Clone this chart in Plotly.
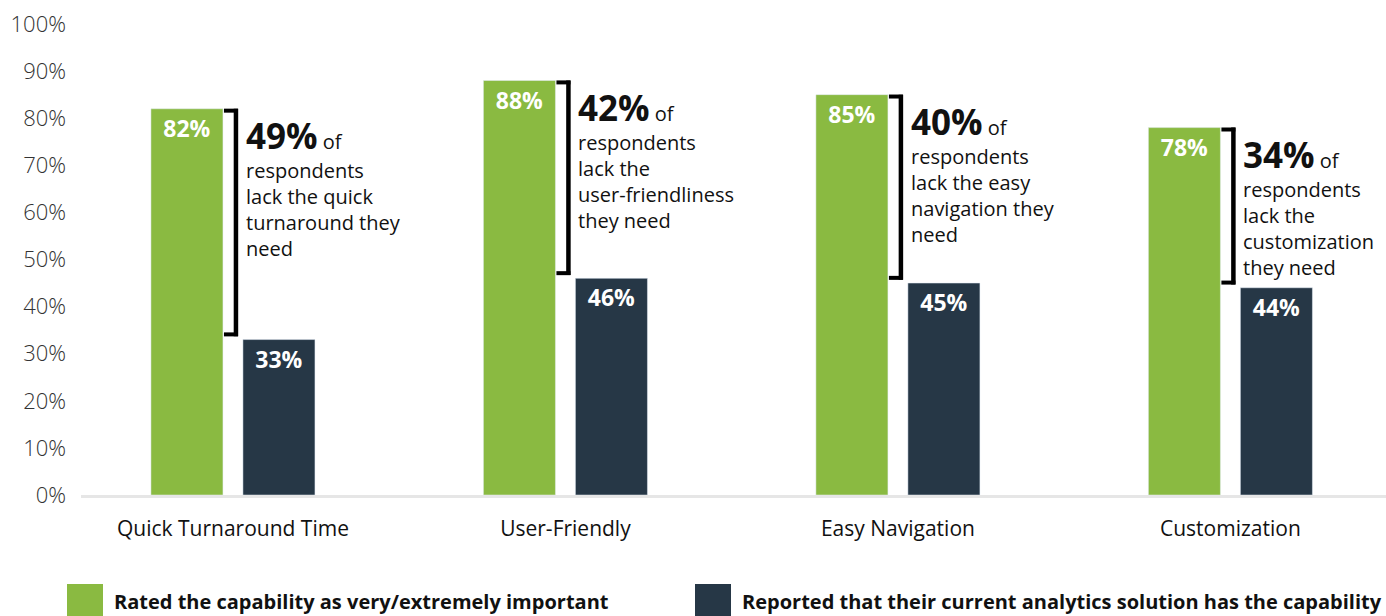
import plotly.graph_objects as go

# ---- data ----
categories = ["Quick Turnaround Time", "User-Friendly", "Easy Navigation", "Customization"]
important = [82, 88, 85, 78]
has_capability = [33, 46, 45, 44]
series_names = ["Rated the capability as very/extremely important",
                "Reported that their current analytics solution has the capability"]
gap_lines = [
    ["respondents", "lack the quick", "turnaround they", "need"],
    ["respondents", "lack the", "user-friendliness", "they need"],
    ["respondents", "lack the easy", "navigation they", "need"],
    ["respondents", "lack the", "customization", "they need"],
]
y_ticks = list(range(0, 101, 10))
y_tick_labels = [f"{v}%" for v in y_ticks]

GREEN = "#8aba41"
DARK = "#263746"
FONT = "Open Sans"

idx = list(range(len(categories)))

fig = go.Figure()
for vals, name, col in [(important, series_names[0], GREEN), (has_capability, series_names[1], DARK)]:
    fig.add_trace(go.Bar(
        x=idx, y=vals, name=name, marker_color=col,
        texttemplate="%{y}%", textposition="inside", insidetextanchor="end",
        textangle=0, textfont=dict(color="white", size=23, family=FONT, weight="bold"),
        cliponaxis=False,
    ))

shapes = []
annotations = []
UPX = 3.925 / 1305  # data units per pixel on x
for i, (g, d, lines) in enumerate(zip(important, has_capability, gap_lines)):
    xv = i + 3 * UPX
    xl = i - 9 * UPX
    yb = d + 0.7
    shapes.append(dict(type="line", xref="x", yref="y", x0=xv, x1=xv, y0=yb, y1=g,
                       line=dict(color="black", width=4.5)))
    shapes.append(dict(type="line", xref="x", yref="y", x0=xl, x1=xv + 2 * UPX, y0=g - 0.4, y1=g - 0.4,
                       line=dict(color="black", width=4)))
    shapes.append(dict(type="line", xref="x", yref="y", x0=xl, x1=xv + 2 * UPX, y0=yb + 0.4, y1=yb + 0.4,
                       line=dict(color="black", width=4)))
    gap = g - d
    head = f"<span style='font-size:35px'><b>{gap}%</b></span> of"
    annotations.append(dict(
        x=i, y=g, xref="x", yref="y", xanchor="left", yanchor="bottom", align="left",
        xshift=11, yshift=-52, showarrow=False, text=head,
        font=dict(family=FONT, size=20, color="#111111"),
    ))
    annotations.append(dict(
        x=i, y=g, xref="x", yref="y", xanchor="left", yanchor="top", align="left",
        xshift=11, yshift=-46, showarrow=False, text="<br>".join(lines),
        font=dict(family=FONT, size=20, color="#111111"),
    ))

# legend (drawn manually to match big square swatches)
def px2paper_x(px):
    return (px - 81) / 1305

def px2paper_y(py):
    return (495 - py) / 471

legend_items = [(series_names[0], GREEN, 67, 112), (series_names[1], DARK, 695, 740)]
for name, col, sx, tx in legend_items:
    shapes.append(dict(type="rect", xref="paper", yref="paper",
                       x0=px2paper_x(sx), x1=px2paper_x(sx + 36),
                       y0=px2paper_y(584), y1=px2paper_y(620),
                       fillcolor=col, line=dict(width=0)))
    annotations.append(dict(x=px2paper_x(tx), y=px2paper_y(601), xref="paper", yref="paper",
                            xanchor="left", yanchor="middle", showarrow=False, text=f"<b>{name}</b>",
                            font=dict(family=FONT, size=20, color="#111111")))

fig.update_layout(
    width=1386, height=616,
    margin=dict(l=81, r=0, t=24, b=121),
    plot_bgcolor="white", paper_bgcolor="white",
    barmode="group", bargap=0.4466, bargroupgap=0.217,
    showlegend=False,
    shapes=shapes, annotations=annotations,
    font=dict(family=FONT),
    xaxis=dict(
        range=[-0.457, 3.468], tickvals=idx, ticktext=categories,
        showgrid=False, zeroline=False, showline=True, linecolor="#e6e6e6", linewidth=3,
        ticks="", tickfont=dict(family=FONT, size=21, color="#111111"), ticklabelstandoff=13,
    ),
    yaxis=dict(
        range=[0, 100], tickvals=y_ticks, ticktext=y_tick_labels,
        showgrid=False, zeroline=False, showline=False, ticks="",
        tickfont=dict(family=FONT, size=22, color="#333333", weight=300), ticklabelstandoff=14,
    ),
)

fig.write_html("out.html")
